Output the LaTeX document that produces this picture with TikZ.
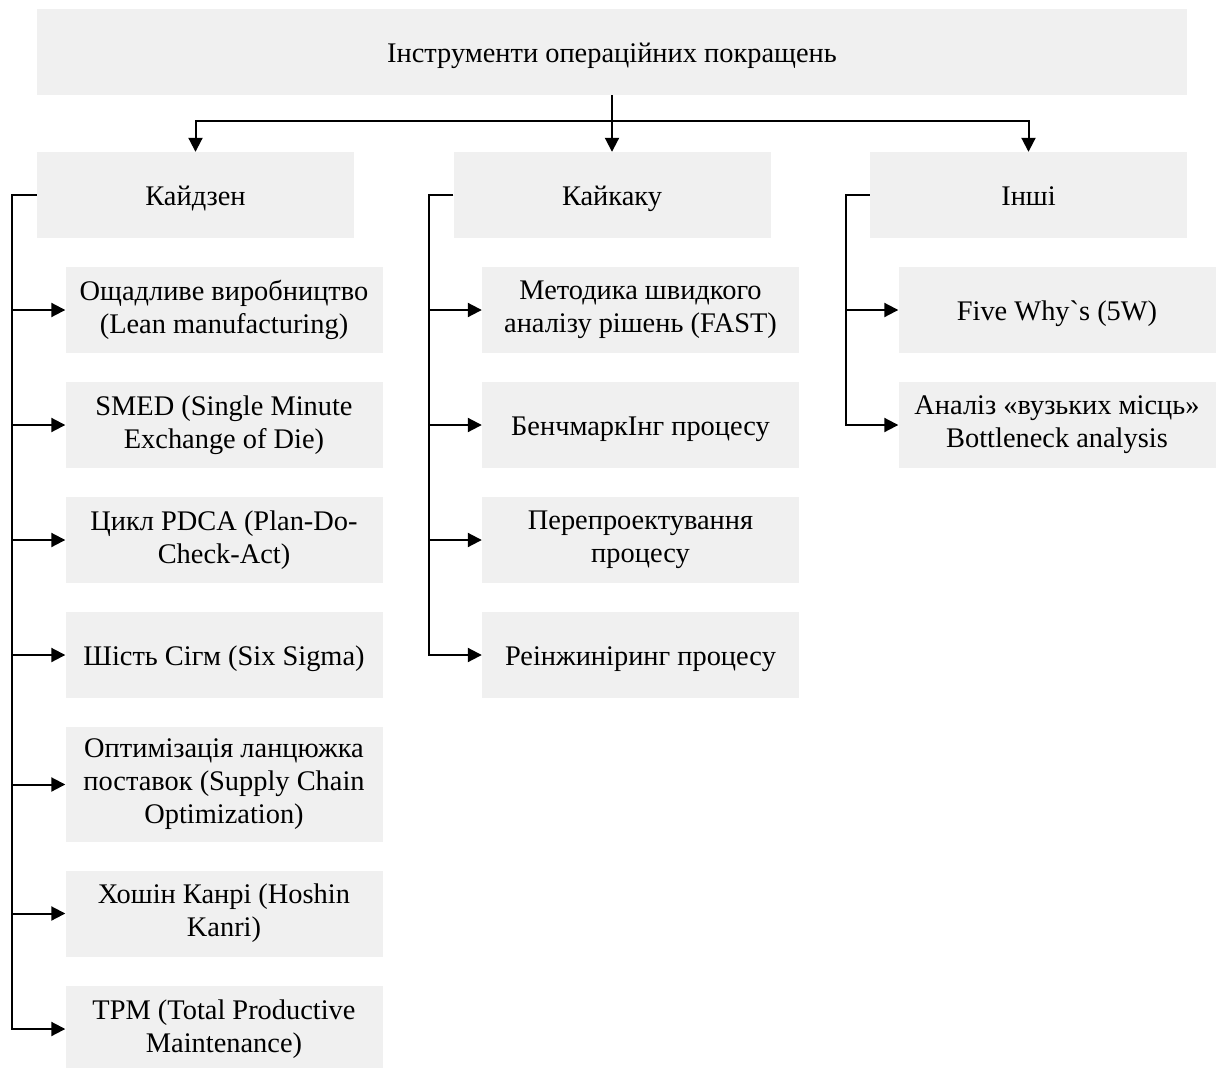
\documentclass[tikz,border=0pt]{standalone}
\usepackage{fontspec}
\setmainfont{Liberation Serif}
\newfontfamily\rawfont{Liberation Serif}
\usetikzlibrary{arrows.meta}
\definecolor{boxgray}{RGB}{240,240,240}
\begin{document}
\begin{tikzpicture}[x=1pt,y=-1pt,
  box/.style={fill=boxgray, draw=none, rectangle, minimum width=317pt, minimum height=86pt, inner sep=0pt, align=center, font=\fontsize{28.4}{33.2}\selectfont,
    execute at begin node={\rule{0pt}{26.7pt}}, execute at end node={\rule[-6.5pt]{0pt}{6.5pt}}},
  tallbox/.style={box, minimum height=115pt},
  topbox/.style={box, minimum width=1150pt},
  conn/.style={line width=2pt},
  arr/.style={conn, -{Triangle[length=14pt,width=14pt]}}
]
\useasboundingbox (0,0) rectangle (1221,1068);
\begin{scope}
\clip (0,0) rectangle (1221,1068);
\node[topbox] (top) at (612,52) {Інструменти операційних покращень};
\node[box] (kz) at (195.5,195) {Кайдзен};
\node[box] (kk) at (612,195) {Кайкаку};
\node[box] (in) at (1028.5,195) {Інші};

\node[box] (k1) at (224,310) {Ощадливе виробництво\\(Lean manufacturing)};
\node[box] (k2) at (224,425) {SMED (Single Minute\\Exchange of Die)};
\node[box] (k3) at (224,540) {Цикл PDCA (Plan-Do-\\Check-Act)};
\node[box] (k4) at (224,655) {Шість Сігм (Six Sigma)};
\node[tallbox] (k5) at (224,784.5) {Оптимізація ланцюжка\\поставок (Supply Chain\\Optimization)};
\node[box] (k6) at (224,913.5) {Хошін Канрі (Hoshin\\Kanri)};
\node[box] (k7) at (224,1029) {TPM (Total Productive\\Maintenance)};

\node[box] (a1) at (640.5,310) {Методика швидкого\\аналізу рішень (FAST)};
\node[box] (a2) at (640.5,425) {БенчмаркІнг процесу};
\node[box] (a3) at (640.5,540) {Перепроектування\\процесу};
\node[box] (a4) at (640.5,655) {Реінжиніринг процесу};

\node[box] (o1) at (1057,310) {Five Why{\rawfont `}s (5W)};
\node[box] (o2) at (1057,425) {Аналіз «вузьких місць»\\Bottleneck analysis};
\end{scope}

\coordinate (h) at (0,121);
\coordinate (kx) at (12,0);
\coordinate (ax) at (429,0);
\coordinate (ox) at (846,0);

\draw[conn] (top.south) -- (top.south |- h);
\draw[arr] (top.south |- h) -| (kz.north);
\draw[arr] (top.south |- h) -| (in.north);
\draw[arr] (top.south) -- (kk.north);

\draw[arr] (kz.west) -- (kz.west -| kx) |- (k7.west);
\foreach \n in {k1,k2,k3,k4,k5,k6} \draw[arr] (\n.west -| kx) -- (\n.west);

\draw[arr] (kk.west) -- (kk.west -| ax) |- (a4.west);
\foreach \n in {a1,a2,a3} \draw[arr] (\n.west -| ax) -- (\n.west);

\draw[arr] (in.west) -- (in.west -| ox) |- (o2.west);
\draw[arr] (o1.west -| ox) -- (o1.west);
\end{tikzpicture}
\end{document}
